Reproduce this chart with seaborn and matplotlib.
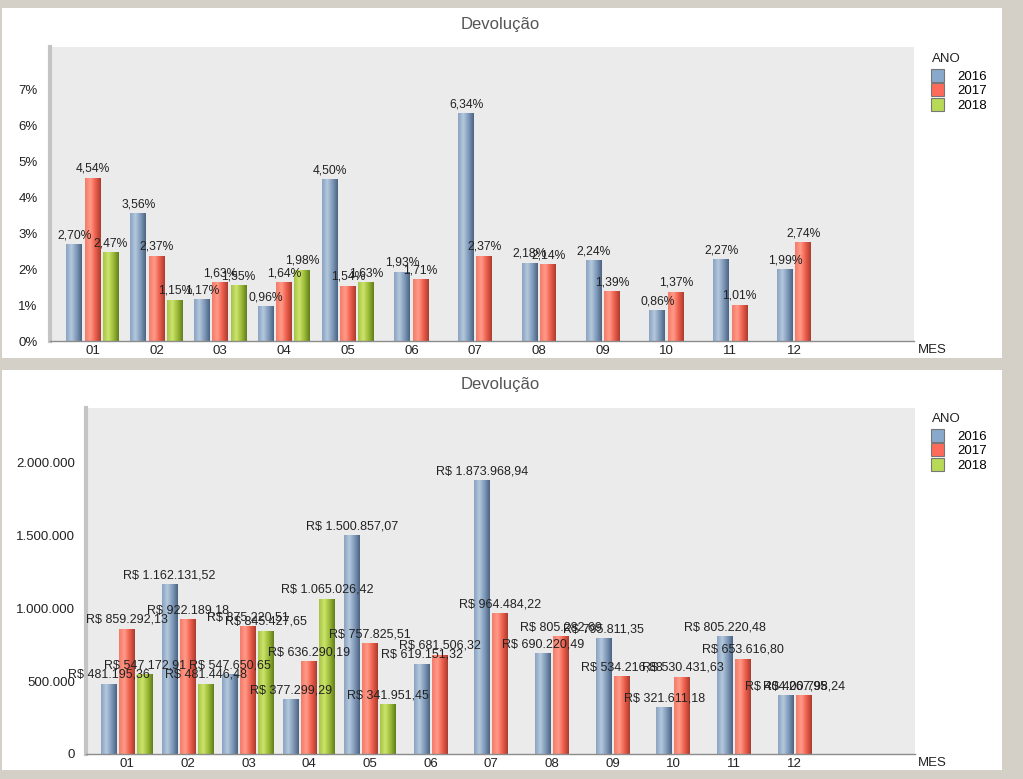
import numpy as np
import pandas as pd
import seaborn as sns
import matplotlib.pyplot as plt
from matplotlib.patches import Rectangle, Patch
from matplotlib.colors import LinearSegmentedColormap

# dados
meses = ['01', '02', '03', '04', '05', '06', '07', '08', '09', '10', '11', '12']
anos = ['2016', '2017', '2018']

pct_2016 = [2.70, 3.56, 1.17, 0.96, 4.50, 1.93, 6.34, 2.18, 2.24, 0.86, 2.27, 1.99]
pct_2017 = [4.54, 2.37, 1.63, 1.64, 1.54, 1.71, 2.37, 2.14, 1.39, 1.37, 1.01, 2.74]
pct_2018 = [2.47, 1.15, 1.55, 1.98, 1.63]

val_2016 = [481195.36, 1162131.52, 547650.65, 377299.29, 1500857.07, 619151.32,
            1873968.94, 690220.49, 795811.35, 321611.18, 805220.48, 404267.95]
val_2017 = [859292.13, 922189.18, 875220.51, 636290.19, 757825.51, 681506.32,
            964484.22, 805282.69, 534216.88, 530431.63, 653616.80, 400798.24]
val_2018 = [547172.91, 481446.48, 845427.65, 1065026.42, 341951.45]

cores = {'2016': '#7d98b8', '2017': '#f0604e', '2018': '#a4c23c'}
cores_leg = {'2016': '#88a8cc', '2017': '#ff6b5b', '2018': '#b8d858'}
degrade = {
    '2016': ['#8aa3c0', '#b4c8de', '#7f99b8', '#4b6482'],
    '2017': ['#f47a68', '#ff9a88', '#ee5e4c', '#a83c2e'],
    '2018': ['#a6c444', '#cce46c', '#9cba36', '#5f7e1c'],
}


def monta_df(v16, v17, v18):
    linhas = []
    for ano, vals in zip(anos, [v16, v17, v18]):
        for m, v in zip(meses, vals):
            linhas.append({'MES': m, 'ANO': ano, 'valor': v})
    return pd.DataFrame(linhas)


df_pct = monta_df(pct_2016, pct_2017, pct_2018)
df_val = monta_df(val_2016, val_2017, val_2018)

plt.rcParams['font.family'] = ['Liberation Sans', 'DejaVu Sans']

fig = plt.figure(figsize=(10.23, 7.79), dpi=100, facecolor='#d4d0c8')
W, H = 1023, 779


def px_rect(x0, y0, x1, y1):
    return [x0 / W, 1 - y1 / H, (x1 - x0) / W, (y1 - y0) / H]


# painéis brancos
for (x0, y0, x1, y1) in [(2, 8, 1002, 358), (2, 370, 1002, 770)]:
    fig.patches.append(Rectangle((x0 / W, 1 - y1 / H), (x1 - x0) / W, (y1 - y0) / H,
                                 transform=fig.transFigure, facecolor='white',
                                 edgecolor='none', zorder=-10))


def desenha(ax, df, slot, gap, fmt, tam_rot, leg_y):
    tres = df[df['MES'].isin(meses[:5])]
    dois = df[~df['MES'].isin(meses[:5])]
    sns.barplot(data=tres, x='MES', y='valor', hue='ANO', order=meses,
                hue_order=anos, palette=cores, width=slot * 3, gap=gap,
                legend=False, ax=ax, errorbar=None, linewidth=0)
    sns.barplot(data=dois, x='MES', y='valor', hue='ANO', order=meses,
                hue_order=anos[:2], palette=cores, width=slot * 2, gap=gap,
                legend=False, ax=ax, errorbar=None, linewidth=0)
    lim = ax.get_xlim(), ax.get_ylim()
    # efeito cilíndrico
    grad = np.linspace(0, 1, 64).reshape(1, -1)
    for cont, ano in zip(ax.containers, anos + anos[:2]):
        cmap = LinearSegmentedColormap.from_list('c' + ano, degrade[ano])
        for p in cont:
            x0, y0 = p.get_x(), p.get_y()
            im = ax.imshow(grad, extent=[x0, x0 + p.get_width(), y0, y0 + p.get_height()],
                           aspect='auto', cmap=cmap, zorder=p.get_zorder() + 0.1)
            im.set_clip_path(p)
        ax.bar_label(cont, fmt=fmt, padding=2, fontsize=tam_rot, color='#222222')
    ax.set_xlim(*lim[0])
    ax.set_ylim(*lim[1])
    ax.set_facecolor('#ebebeb')
    ax.set_xlabel('')
    ax.set_ylabel('')
    for s in ['top', 'right']:
        ax.spines[s].set_visible(False)
    ax.spines['left'].set_color('#c4c4c4')
    ax.spines['left'].set_linewidth(3)
    ax.spines['bottom'].set_color('#8c8c8c')
    ax.spines['bottom'].set_linewidth(1)
    ax.tick_params(length=0, labelsize=9.5, labelcolor='#222222')
    ax.tick_params(axis='x', pad=3)
    # legenda (título separado, posição em pixels da figura)
    fig.text(932 / W, 1 - leg_y / H, 'ANO', fontsize=9.5, color='#222222',
             ha='left', va='center')
    handles = [Patch(facecolor=cores_leg[a], edgecolor='#777777', linewidth=0.8, label=a)
               for a in anos]
    ax.legend(handles=handles, loc='upper left',
              bbox_to_anchor=((932 - 5) / W, 1 - (leg_y + 6) / H),
              bbox_transform=fig.transFigure, frameon=False, fontsize=9.5,
              handlelength=1.0, handleheight=1.1, handletextpad=1.0,
              labelspacing=0.05, borderpad=0.3, borderaxespad=0)


def fmt_pct(v):
    return f'{v:.2f}%'.replace('.', ',')


def fmt_real(v):
    s = f'{v:,.2f}'.replace(',', '#').replace('.', ',').replace('#', '.')
    return 'R$ ' + s


def fmt_eixo(v, pos=None):
    return f'{v:,.0f}'.replace(',', '.')


# gráfico de percentual
ax1 = fig.add_axes(px_rect(50, 47, 914, 341))
desenha(ax1, df_pct, 0.287, 0.13, fmt_pct, 8.7, 59)
ax1.set_ylim(0, 8.17)
ax1.set_xlim(-0.67, 12.88)
ax1.set_yticks(range(0, 8))
ax1.set_yticklabels([f'{i}%' for i in range(0, 8)])
ax1.tick_params(axis='y', pad=9)
ax1.text(1.004, -0.03, 'MES', transform=ax1.transAxes, fontsize=9.5,
         color='#222222', va='center', ha='left')

# gráfico de valores
ax2 = fig.add_axes(px_rect(86, 408, 915, 754))
desenha(ax2, df_val, 0.297, 0.12, fmt_real, 9, 419)
ax2.set_ylim(0, 2370000)
ax2.set_xlim(-0.675, 12.98)
ax2.set_yticks([0, 500000, 1000000, 1500000, 2000000])
ax2.yaxis.set_major_formatter(plt.FuncFormatter(fmt_eixo))
ax2.tick_params(axis='y', pad=8)
ax2.text(1.004, -0.026, 'MES', transform=ax2.transAxes, fontsize=9.5,
         color='#222222', va='center', ha='left')

fig.text(500 / W, 1 - 24 / H, 'Devolução', ha='center', va='center',
         fontsize=12, color='#555555')
fig.text(500 / W, 1 - 384 / H, 'Devolução', ha='center', va='center',
         fontsize=12, color='#555555')

fig.savefig('out.png', dpi=100, facecolor=fig.get_facecolor())
